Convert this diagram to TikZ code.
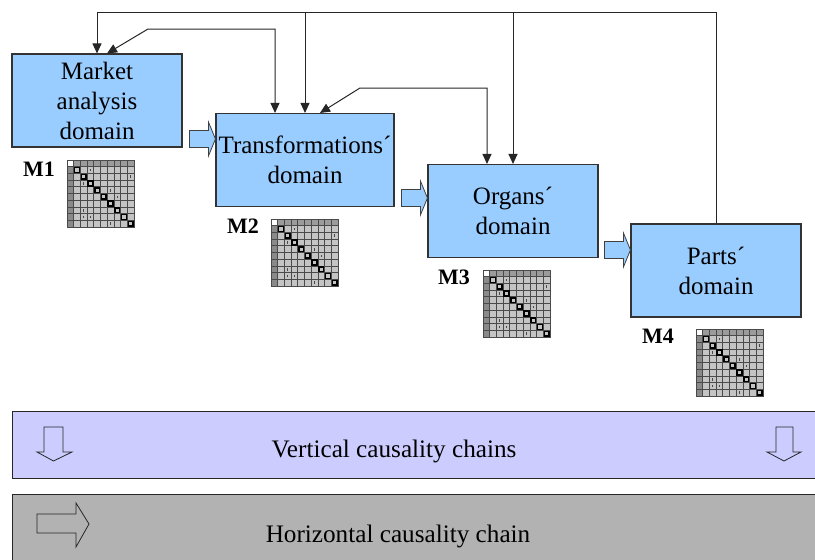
\documentclass[tikz,border=0pt]{standalone}
\usepackage{fontspec}
\setmainfont{Liberation Serif}
\usetikzlibrary{arrows.meta,calc}
\definecolor{boxblue}{HTML}{99CCFF}
\definecolor{lavband}{HTML}{CCCCFF}
\definecolor{grayband}{HTML}{B2B2B2}
\definecolor{cellgray}{HTML}{C4C4C4}
\definecolor{hdrgray}{HTML}{8A8A8A}
\definecolor{gridgray}{HTML}{4A4A4A}

\tikzset{
  % design structure matrix icon, 10 x 10 cells, origin at its top-left corner
  dsm/.pic={
    \fill[cellgray] (0,0) rectangle (67,67);
    \fill[hdrgray!70!cellgray] (0,0) rectangle (67,6.7);
    \fill[hdrgray] (0,0) rectangle (6.7,67);
    \fill[white] (0,0) rectangle (6.7,6.7);
    \foreach \k in {1,...,9}{
      \draw[gridgray, line width=0.8pt] ({\k*6.7},0) -- ({\k*6.7},67);
      \draw[gridgray, line width=0.8pt] (0,{\k*6.7}) -- (67,{\k*6.7});
    }
    \draw[gridgray, line width=1pt] (0,0) rectangle (67,67);
    \foreach \k in {1,...,9}
      \draw[black, line width=1.5pt] ({\k*6.7+1},{\k*6.7+1}) rectangle ++(4.7,4.7);
    \foreach \r/\c in {1/3,2/9,3/2,5/7,7/2,8/2,8/3,9/6,4/6}
      \fill[gridgray] ({\c*6.7+2.8},{\r*6.7+2}) rectangle ++(1.1,2.7);
  }
}

\begin{document}
\begin{tikzpicture}[x=1pt,y=-1pt,
  domainbox/.style={draw=black!80, line width=1.1pt, fill=boxblue,
    minimum width=170pt, minimum height=93pt, inner sep=0pt,
    align=center, font=\fontsize{25}{30}\selectfont},
  mlabel/.style={font=\fontsize{22}{26}\selectfont\bfseries, inner sep=0pt},
  conn/.style={draw=black!85, line width=1pt},
  tip/.style={-{Triangle[length=10pt,width=9pt]}},
  bothtips/.style={{Triangle[length=10pt,width=9pt]}-{Triangle[length=10pt,width=9pt]}},
  blockarrow/.style={draw=black!75, line width=0.8pt, fill=boxblue, line join=miter},
  hollowarrow/.style={draw=black!85, line width=0.8pt},
  bandtext/.style={font=\fontsize{25.2}{30}\selectfont, inner sep=0pt}
]
\useasboundingbox (0,0) rectangle (815,560);

% causality bands
\draw[draw=black!85, line width=1pt, fill=lavband] (12,411) rectangle (830,478);
\draw[draw=black!85, line width=1pt, fill=grayband] (12,494) rectangle (830,575);
\node[bandtext] (vchain) at (394,451) {Vertical causality chains};
\node[bandtext] (hchain) at (398,536) {Horizontal causality chain};

% hollow arrows inside the bands
\draw[hollowarrow] (44,427) -- (63,427) -- (63,452) -- (72,452) -- (53.5,461)
  -- (37,452) -- (44,452) -- cycle;
\draw[hollowarrow] (776,427) -- (793,427) -- (793,452) -- (801,452) -- (784,461)
  -- (767,452) -- (776,452) -- cycle;
\draw[hollowarrow] (37,514) -- (76,514) -- (76,503) -- (89,524) -- (76,547)
  -- (76,533) -- (37,533) -- cycle;

% domains
\node[domainbox] (market) at (97,100.5) {Market\\analysis\\domain};
\node[domainbox, minimum width=178pt] (trans) at (305,160) {Transformations´\\domain};
\node[domainbox] (organs) at (513,211) {Organs´\\domain};
\node[domainbox] (parts) at (716,270.5) {Parts´\\domain};

% matrices
\node[mlabel] (m1) at (39,169) {M1};
\node[mlabel] (m2) at (243,226) {M2};
\node[mlabel] (m3) at (454,277) {M3};
\node[mlabel] (m4) at (658,336) {M4};
\pic at (67,160) {dsm};
\pic at (271,219) {dsm};
\pic at (483,270) {dsm};
\pic at (696,329) {dsm};

% block arrows between consecutive domains
\coordinate (b1) at ([yshift=21pt]trans.west);
\coordinate (b2) at ([yshift=13pt]organs.west);
\coordinate (b3) at ([yshift=20.5pt]parts.west);
\foreach \t in {b1,b2,b3}
  \draw[blockarrow] (\t) -- ++(-7,17) -- ++(0,-8.5) -- ++(-19,0) -- ++(0,-17)
    -- ++(19,0) -- ++(0,-8.5) -- cycle;

% feedback connectors
\coordinate (topline) at (0,12);
\draw[conn, tip] (parts.north) |- (topline -| market.north) -- (market.north);
\draw[conn, tip] (topline -| trans.north) -- (trans.north);
\draw[conn, tip] (topline -| organs.north) -- (organs.north);

\coordinate (ma) at ([xshift=10pt]market.north);
\coordinate (k1) at (148,29);
\coordinate (ta) at ([xshift=-30pt]trans.north);
\draw[conn, bothtips] (ma) -- (k1) -| (ta);

\coordinate (tb) at ([xshift=15pt]trans.north);
\coordinate (k2) at (360,88);
\coordinate (oa) at ([xshift=-26pt]organs.north);
\draw[conn, bothtips] (tb) -- (k2) -| (oa);
\end{tikzpicture}
\end{document}
